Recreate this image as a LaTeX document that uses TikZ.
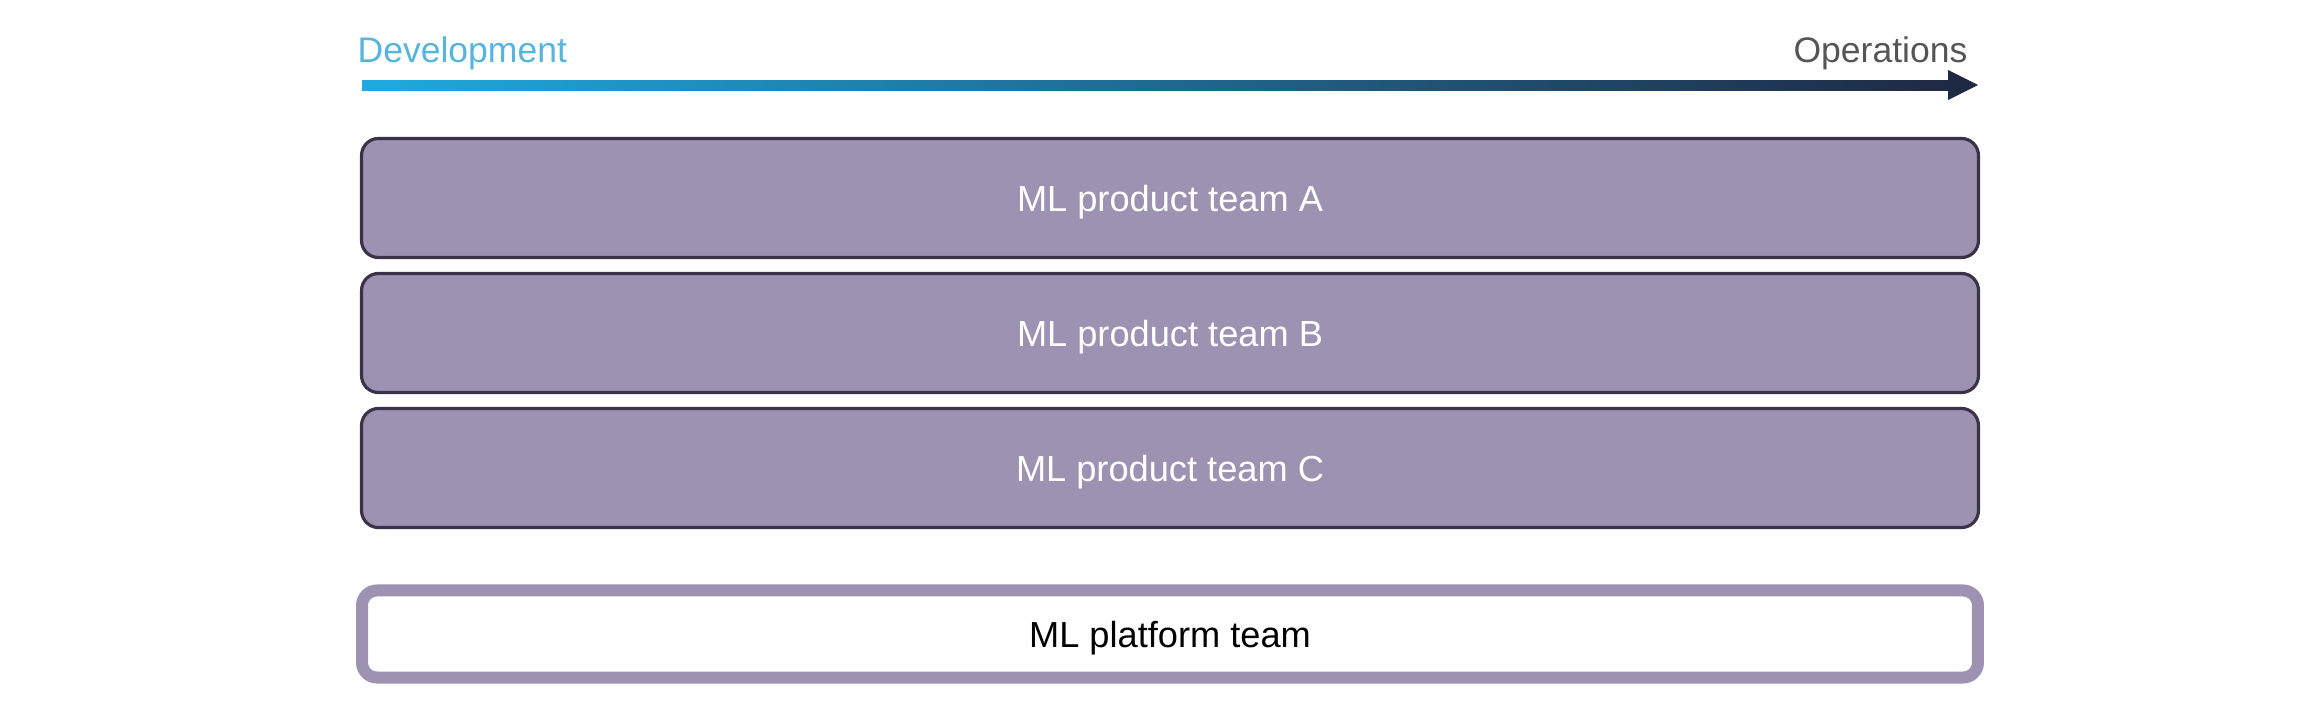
\documentclass[tikz,border=0pt]{standalone}
\usepackage{fontspec}
\setmainfont{Liberation Sans}
\usetikzlibrary{positioning,calc}
\definecolor{devblue}{HTML}{1EAADE}
\definecolor{devtext}{HTML}{56B4DE}
\definecolor{opsnavy}{HTML}{1F2943}
\definecolor{opstext}{HTML}{555555}
\definecolor{teamfill}{HTML}{9D92B2}
\definecolor{teamline}{HTML}{3A3347}
\tikzset{
	team/.style={
			draw=teamline, line width=0.9pt, fill=teamfill, rounded corners=0.17cm,
			minimum width=16.16cm, minimum height=1.19cm, text=white, text depth=0pt,
			font=\fontsize{10.3}{12}\selectfont
		},
	platform/.style={
			draw=teamfill, line width=0.12cm, fill=white, rounded corners=0.15cm,
			minimum width=16.15cm, minimum height=0.87cm, text=black, text depth=0pt,
			font=\fontsize{10.3}{12}\selectfont
		},
	phase/.style={font=\fontsize{10.1}{12}\selectfont, inner sep=0pt}
}

\begin{document}
\begin{tikzpicture}[x=0.01cm, y=-0.01cm]
		\useasboundingbox (0,0) rectangle (2324,718);
		\node [phase, text=devtext, anchor=base west] (dev) at (357,62) {Development};
		\node [phase, text=opstext, anchor=base east] (ops) at (1968,62) {Operations};
		\coordinate (devend) at (362,85);
		\coordinate (opsend) at (1978,85);
		\shade [left color=devblue, middle color=devblue!60!opsnavy, right color=opsnavy] ($(devend)+(0,-5)$) rectangle ($(opsend)+(-28,5)$);
		\fill [opsnavy] ($(opsend)+(-30,-15)$) -- (opsend) -- ($(opsend)+(-30,15)$) -- cycle;
		\node [team] (teamA) at (1170,198) {ML product team A};
		\node [team] (teamB) at (1170,333) {ML product team B};
		\node [team] (teamC) at (1170,468) {ML product team C};
		\node [platform] (plat) at (1170,634) {ML platform team};
	\end{tikzpicture}
\end{document}
